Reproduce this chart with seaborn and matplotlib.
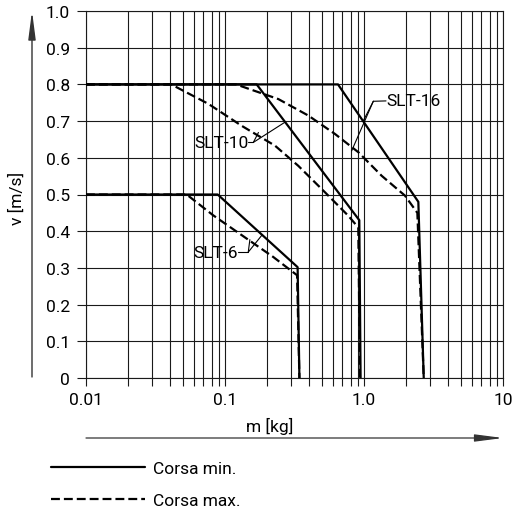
import matplotlib
matplotlib.use("Agg")
import matplotlib.pyplot as plt
import numpy as np
import pandas as pd
import seaborn as sns
from matplotlib.lines import Line2D
from matplotlib.ticker import FixedLocator, FixedFormatter, NullFormatter

# ---------------- data ----------------
slt6_min_m = [0.01, 0.0886, 0.333, 0.343]
slt6_min_v = [0.5, 0.5, 0.302, 0.0]
slt6_max_m = [0.01, 0.053, 0.0824, 0.143, 0.222, 0.33, 0.343]
slt6_max_v = [0.5, 0.5, 0.443, 0.38, 0.33, 0.28, 0.0]

slt10_min_m = [0.01, 0.169, 0.925, 0.945]
slt10_min_v = [0.8, 0.8, 0.43, 0.0]
slt10_max_m = [0.01, 0.041, 0.0759, 0.132, 0.229, 0.337, 0.524, 0.771, 0.91, 0.935]
slt10_max_v = [0.8, 0.8, 0.747, 0.687, 0.633, 0.578, 0.506, 0.442, 0.41, 0.0]

slt16_min_m = [0.01, 0.65, 2.46, 2.69]
slt16_min_v = [0.8, 0.8, 0.48, 0.0]
slt16_max_m = [0.01, 0.12, 0.242, 0.398, 0.618, 0.912, 1.34, 1.97, 2.42, 2.69]
slt16_max_v = [0.8, 0.8, 0.76, 0.715, 0.665, 0.615, 0.551, 0.497, 0.45, 0.0]

stroke_labels = ["Corsa min.", "Corsa max."]
x_ticks = [0.01, 0.1, 1.0, 10.0]
x_tick_labels = ["0.01", "0.1", "1.0", "10"]
y_ticks = [0.0, 0.1, 0.2, 0.3, 0.4, 0.5, 0.6, 0.7, 0.8, 0.9, 1.0]
y_tick_labels = ["0", "0.1", "0.2", "0.3", "0.4", "0.5", "0.6", "0.7", "0.8", "0.9", "1.0"]
x_label = "m [kg]"
y_label = "v [m/s]"

# model labels: text, anchor, leader vertex, leader targets
model_names = ["SLT-6", "SLT-10", "SLT-16"]
model_anchor = [(0.124, 0.343), (0.147, 0.642), (1.44, 0.755)]
model_vertex = [(0.147, 0.343), (0.160, 0.642), (1.167, 0.754)]
model_targets = [[(0.151, 0.377), (0.185, 0.390)],
                 [(0.174, 0.669), (0.270, 0.697)],
                 [(0.989, 0.701), (0.815, 0.619)]]
model_ha = ["right", "right", "left"]

# ---------------- build table ----------------
curves = [
    ("SLT-6 min", stroke_labels[0], slt6_min_m, slt6_min_v),
    ("SLT-6 max", stroke_labels[1], slt6_max_m, slt6_max_v),
    ("SLT-10 min", stroke_labels[0], slt10_min_m, slt10_min_v),
    ("SLT-10 max", stroke_labels[1], slt10_max_m, slt10_max_v),
    ("SLT-16 min", stroke_labels[0], slt16_min_m, slt16_min_v),
    ("SLT-16 max", stroke_labels[1], slt16_max_m, slt16_max_v),
]
rows = []
for name, stroke, ms, vs in curves:
    for m, v in zip(ms, vs):
        rows.append({"curve": name, "stroke": stroke, "m": m, "v": v})
df = pd.DataFrame(rows)

# ---------------- style ----------------
sns.set_theme(style="ticks")
plt.rcParams["font.family"] = ["Roboto", "DejaVu Sans"]
plt.rcParams["text.color"] = "black"
plt.rcParams["xtick.color"] = "black"
plt.rcParams["ytick.color"] = "black"
FS = 12.5
LW = 1.6
DASH = (4, 1.8)
GRID_C = "#1a1a1a"

fig = plt.figure(figsize=(5.12, 5.10), dpi=100)
W, H = 512, 510
ax = fig.add_axes([86 / W, 131 / H, 417 / W, 367 / H])

sns.lineplot(data=df, x="m", y="v", units="curve", style="stroke",
             style_order=stroke_labels, estimator=None, sort=False,
             color="black", lw=LW,
             dashes={stroke_labels[0]: "", stroke_labels[1]: DASH},
             legend=False, ax=ax, zorder=3)

ax.set_xscale("log")
ax.set_xlim(0.01, 10)
ax.set_ylim(0, 1.0)
ax.xaxis.set_major_locator(FixedLocator(x_ticks))
ax.xaxis.set_major_formatter(FixedFormatter(x_tick_labels))
minor = [s * d for d in [0.01, 0.1, 1.0] for s in range(2, 10)]
ax.xaxis.set_minor_locator(FixedLocator(minor))
ax.xaxis.set_minor_formatter(NullFormatter())
ax.yaxis.set_major_locator(FixedLocator(y_ticks))
ax.yaxis.set_major_formatter(FixedFormatter(y_tick_labels))

ax.grid(True, which="both", axis="x", color=GRID_C, lw=0.8)
ax.grid(True, which="major", axis="y", color=GRID_C, lw=0.8)
for sp in ax.spines.values():
    sp.set_visible(True)
    sp.set_color(GRID_C)
    sp.set_linewidth(0.8)
ax.tick_params(axis="both", which="both", direction="out", color=GRID_C,
               width=0.8, labelsize=FS, bottom=True, left=True)
ax.tick_params(axis="y", which="major", length=6.5, pad=5)
ax.tick_params(axis="x", which="both", length=6, pad=4)
ax.set_xlabel("")
ax.set_ylabel("")

# model labels with leader lines
for name, anc, vert, tg, ha in zip(model_names, model_anchor, model_vertex, model_targets, model_ha):
    ax.text(anc[0], anc[1], name, ha=ha, va="center", fontsize=FS, zorder=5)
    ax.plot([anc[0], vert[0]], [anc[1], vert[1]], color="black", lw=0.8, zorder=4)
    for t in tg:
        ax.plot([vert[0], t[0]], [vert[1], t[1]], color="black", lw=0.8, zorder=4)

# axis titles
fig.text(270 / W, 1 - 426 / H, x_label, ha="center", va="center", fontsize=FS)
fig.text(17 / W, 1 - 198 / H, y_label, ha="center", va="center", rotation=90, fontsize=FS)

# arrows
arrow_style = "-|>,head_length=1.7,head_width=0.22"
fig.add_artist(matplotlib.patches.FancyArrowPatch(
    (32 / W, 1 - 378 / H), (32 / W, 1 - 12 / H), transform=fig.transFigure,
    arrowstyle=arrow_style, mutation_scale=10, color="#333333", lw=1.0,
    shrinkA=0, shrinkB=0))
fig.add_artist(matplotlib.patches.FancyArrowPatch(
    (86 / W, 1 - 439 / H), (503 / W, 1 - 439 / H), transform=fig.transFigure,
    arrowstyle=arrow_style, mutation_scale=10, color="#333333", lw=0.9,
    shrinkA=0, shrinkB=0))

# legend
handles = [Line2D([], [], color="black", lw=LW),
           Line2D([], [], color="black", lw=LW, ls=(0, DASH))]
fig.legend(handles=handles, labels=stroke_labels, loc="upper left",
           bbox_to_anchor=(51 / W, 1 - 462 / H), frameon=False,
           handlelength=5.4, handletextpad=0.5, labelspacing=0.95,
           borderpad=0, borderaxespad=0, fontsize=FS)

fig.savefig("out.png", dpi=100)
